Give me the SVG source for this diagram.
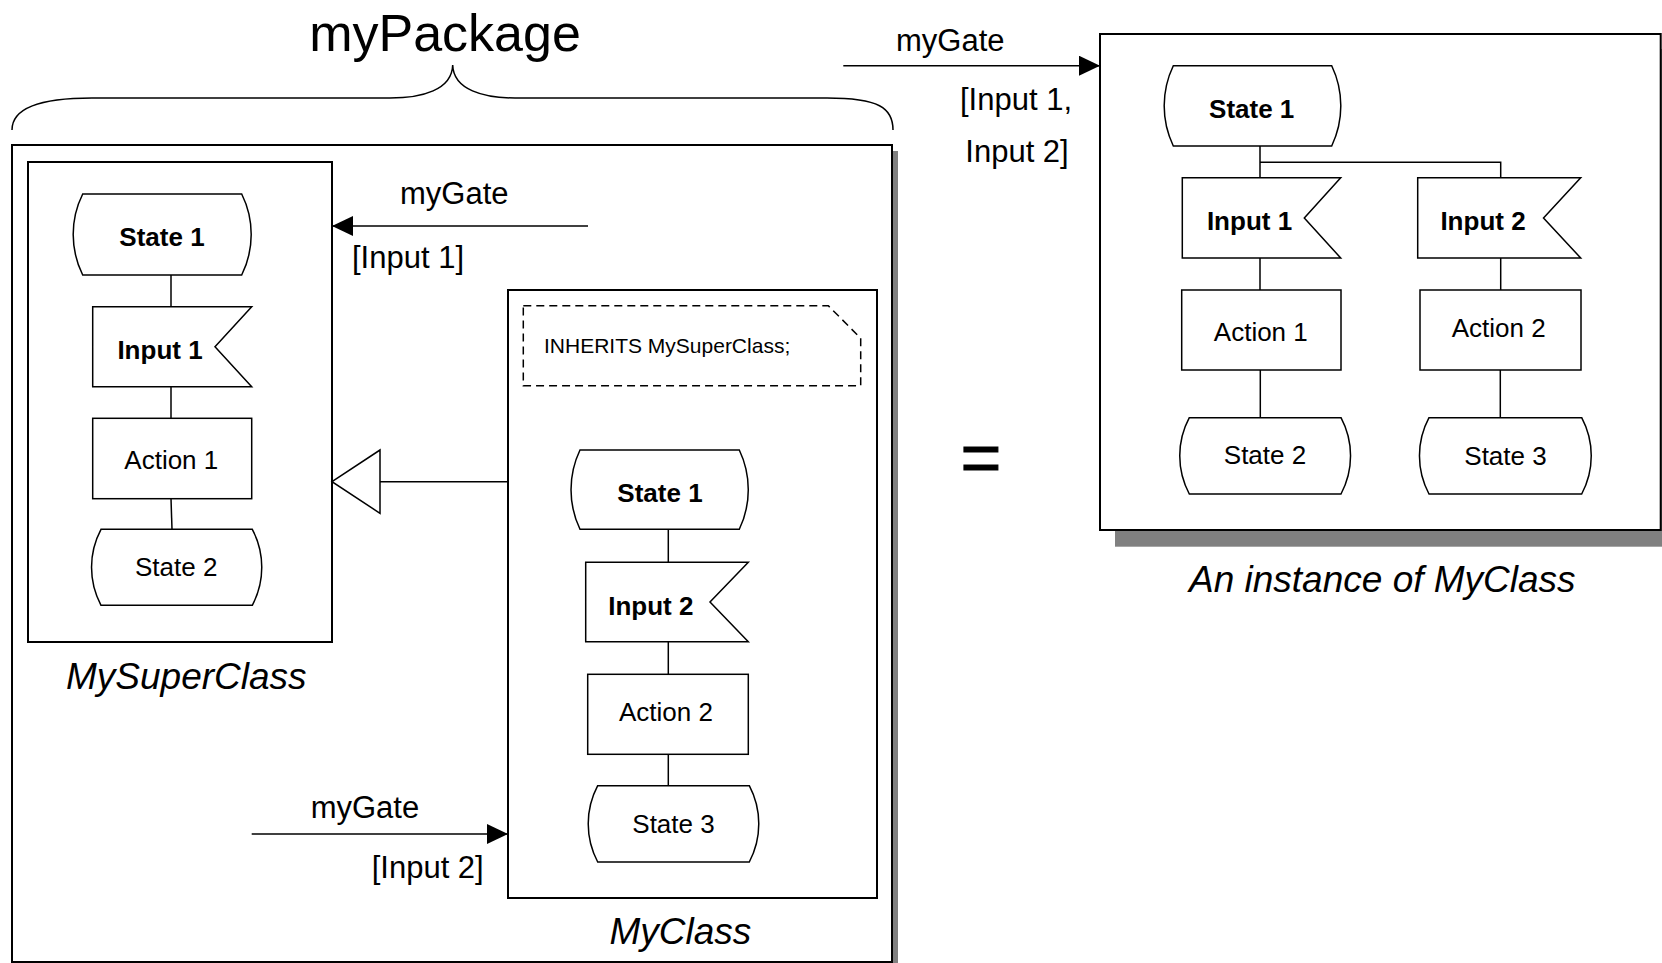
<svg xmlns="http://www.w3.org/2000/svg" width="1662" height="963" viewBox="0 0 1662 963">
<style>
  text { font-family: "Liberation Sans", Arial, sans-serif; fill: #000; }
  .box { fill: #fff; stroke: #000; stroke-width: 2; }
  .shadow { fill: #808080; stroke: none; }
  .shape { fill: #fff; stroke: #000; stroke-width: 1.5; }
  .note { fill: #fff; stroke: #000; stroke-width: 1.5; stroke-dasharray: 8 5; }
  .line { fill: none; stroke: #000; stroke-width: 1.5; }
  .gate { fill: none; stroke: #000; stroke-width: 1.5; marker-end: url(#arrow); }
  .lbl { font-size: 26px; text-anchor: middle; }
  .bold { font-weight: bold; }
  .gtxt { font-size: 31px; }
  .cap { font-size: 37px; font-style: italic; }
</style>
<defs>
  <marker id="arrow" markerUnits="userSpaceOnUse" markerWidth="21" markerHeight="20" refX="21" refY="10" orient="auto">
    <path d="M0,0 L21,10 L0,20 z" fill="#000"/>
  </marker>
</defs>

<rect width="1662" height="963" fill="#fff"/>

<g id="title">
  <text x="445" y="51" font-size="52" text-anchor="middle">myPackage</text>
  <path class="line" d="M12,130 C12,108 40,98 92,98 L390,98 C422,98 452,90 452.7,65 C453.4,90 484,98 515,98 L827,98 C879,98 893,108 893,130"/>
</g>

<g id="myPackage">
  <rect class="shadow" x="18" y="151" width="880" height="820"/>
  <rect class="box" x="12" y="145" width="880" height="817"/>
</g>

<g id="MySuperClass">
  <rect class="box" x="28" y="162" width="304" height="480"/>
  <text class="cap" x="66" y="688.5">MySuperClass</text>
</g>
<g id="sc_state1">
  <path class="shape" d="M82.7,194 L241.7,194 A91,91 0 0 1 241.7,275 L82.7,275 A91,91 0 0 1 82.7,194 Z"/>
  <text class="lbl bold" x="162" y="246">State 1</text>
</g>
<g id="sc_input1">
  <path class="shape" d="M92.7,306.7 L251.7,306.7 L215,346.7 L251.7,386.7 L92.7,386.7 Z"/>
  <text class="lbl bold" x="160" y="359">Input 1</text>
</g>
<g id="sc_action1">
  <rect class="shape" x="92.7" y="418.3" width="159" height="80.4"/>
  <text class="lbl" x="171.3" y="469">Action 1</text>
</g>
<g id="sc_state2">
  <path class="shape" d="M101,529.3 L252.3,529.3 A81,81 0 0 1 252.3,605.3 L101,605.3 A81,81 0 0 1 101,529.3 Z"/>
  <text class="lbl" x="176.2" y="575.5">State 2</text>
</g>

<g id="MyClass">
  <rect class="box" x="508" y="290" width="369" height="608"/>
  <text class="cap" x="609.5" y="944">MyClass</text>
</g>
<g id="mc_note">
  <path class="note" d="M523.3,305.7 L828.3,305.7 L860.7,338.3 L860.7,385.7 L523.3,385.7 Z"/>
  <text x="544" y="352.5" font-size="21">INHERITS MySuperClass;</text>
</g>
<g id="mc_state1">
  <path class="shape" d="M580,450 L739.3,450 A92,92 0 0 1 739.3,529.3 L580,529.3 A92,92 0 0 1 580,450 Z"/>
  <text class="lbl bold" x="660" y="502">State 1</text>
</g>
<g id="mc_input2">
  <path class="shape" d="M585.7,562.3 L748.3,562.3 L710,602 L748.3,641.7 L585.7,641.7 Z"/>
  <text class="lbl bold" x="650.8" y="614.5">Input 2</text>
</g>
<g id="mc_action2">
  <rect class="shape" x="587.7" y="674.3" width="160.6" height="80"/>
  <text class="lbl" x="666" y="720.5">Action 2</text>
</g>
<g id="mc_state3">
  <path class="shape" d="M597.7,785.7 L749.3,785.7 A81.5,81.5 0 0 1 749.3,862 L597.7,862 A81.5,81.5 0 0 1 597.7,785.7 Z"/>
  <text class="lbl" x="673.5" y="832.5">State 3</text>
</g>

<g id="equals">
  <text x="981" y="482" font-size="70" stroke="#000" stroke-width="1" text-anchor="middle">=</text>
</g>

<g id="instance">
  <rect class="shadow" x="1115" y="49" width="560" height="497.7"/>
  <rect class="box" x="1100" y="34" width="560.7" height="496"/>
  <text class="cap" x="1189" y="592">An instance of MyClass</text>
</g>
<g id="in_state1">
  <path class="shape" d="M1173.3,65.7 L1331.7,65.7 A93,93 0 0 1 1331.7,146 L1173.3,146 A93,93 0 0 1 1173.3,65.7 Z"/>
  <text class="lbl bold" x="1251.7" y="117.5">State 1</text>
</g>
<g id="in_input1">
  <path class="shape" d="M1182.3,177.7 L1340.7,177.7 L1304.3,218 L1340.7,258 L1182.3,258 Z"/>
  <text class="lbl bold" x="1249.5" y="230">Input 1</text>
</g>
<g id="in_input2">
  <path class="shape" d="M1417.7,177.7 L1580.7,177.7 L1543.5,218 L1580.7,258 L1417.7,258 Z"/>
  <text class="lbl bold" x="1483" y="230">Input 2</text>
</g>
<g id="in_action1">
  <rect class="shape" x="1181.7" y="290" width="159.3" height="80"/>
  <text class="lbl" x="1260.8" y="341">Action 1</text>
</g>
<g id="in_action2">
  <rect class="shape" x="1420" y="290" width="161" height="80"/>
  <text class="lbl" x="1498.7" y="336.5">Action 2</text>
</g>
<g id="in_state2">
  <path class="shape" d="M1189.3,417.7 L1341,417.7 A81,81 0 0 1 1341,494 L1189.3,494 A81,81 0 0 1 1189.3,417.7 Z"/>
  <text class="lbl" x="1265" y="463.5">State 2</text>
</g>
<g id="in_state3">
  <path class="shape" d="M1429,417.7 L1581.7,417.7 A81,81 0 0 1 1581.7,494 L1429,494 A81,81 0 0 1 1429,417.7 Z"/>
  <text class="lbl" x="1505.5" y="464.5">State 3</text>
</g>

<g id="connectors">
  <line class="line" x1="171" y1="275" x2="171" y2="306.7"/>
  <line class="line" x1="171" y1="386.7" x2="171" y2="418.3"/>
  <line class="line" x1="171" y1="498.7" x2="172" y2="529.3"/>
  <line class="line" x1="668.3" y1="529.3" x2="668.3" y2="562.3"/>
  <line class="line" x1="668.3" y1="641.7" x2="668.3" y2="674.3"/>
  <line class="line" x1="668.3" y1="754.3" x2="668.3" y2="785.7"/>
  <path class="line" d="M1260,146 L1260,177.7 M1260,162.3 L1500.7,162.3 L1500.7,177.7"/>
  <line class="line" x1="1260" y1="258" x2="1260" y2="290"/>
  <line class="line" x1="1500.7" y1="258" x2="1500.7" y2="290"/>
  <line class="line" x1="1260.3" y1="370" x2="1260.3" y2="417.7"/>
  <line class="line" x1="1500.3" y1="370" x2="1500.3" y2="417.7"/>
  <line class="line" x1="380" y1="481.7" x2="508" y2="481.7"/>
  <polygon points="332,481.7 380,450 380,513.3" fill="#fff" stroke="#000" stroke-width="1.5"/>
  <line class="gate" x1="588" y1="226" x2="332" y2="226"/>
  <text class="gtxt" x="400" y="204">myGate</text>
  <text class="gtxt" x="352" y="268">[Input 1]</text>
  <line class="gate" x1="251.7" y1="834" x2="508" y2="834"/>
  <text class="gtxt" x="310.7" y="818">myGate</text>
  <text class="gtxt" x="371.7" y="877.5">[Input 2]</text>
  <line class="gate" x1="843.3" y1="65.7" x2="1100" y2="65.7"/>
  <text class="gtxt" x="896" y="50.5">myGate</text>
  <text class="gtxt" x="960" y="109.5">[Input 1,</text>
  <text class="gtxt" x="965.3" y="162">Input 2]</text>
</g>
</svg>
